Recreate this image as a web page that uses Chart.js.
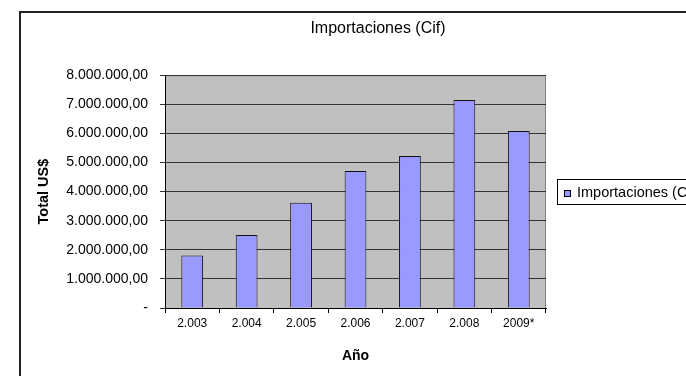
<!DOCTYPE html>
<html>
<head>
<meta charset="utf-8">
<title>Importaciones (Cif)</title>
<script src="https://cdn.jsdelivr.net/npm/chart.js@4.4.1/dist/chart.umd.min.js"></script>
<style>
  html, body { margin: 0; padding: 0; background: #ffffff; }
  #chart { display: block; }
</style>
</head>
<body>
<canvas id="chart" width="686" height="376"></canvas>
<script>
const years = ["2.003", "2.004", "2.005", "2.006", "2.007", "2.008", "2009*"];
const importaciones = [1805000, 2505000, 3620000, 4710000, 5220000, 7150000, 6080000];
const yTickLabels = [
  "-",
  "1.000.000,00",
  "2.000.000,00",
  "3.000.000,00",
  "4.000.000,00",
  "5.000.000,00",
  "6.000.000,00",
  "7.000.000,00",
  "8.000.000,00",
];
const seriesLabel = "Importaciones (Cif)";
const fontFamily = "'Liberation Sans', Arial, sans-serif";

// grey plot background + outer frame
const backgroundPlugin = {
  id: "plotBackground",
  beforeDraw(chart) {
    const ctx = chart.ctx;
    const area = chart.chartArea;
    ctx.save();
    ctx.fillStyle = "#c0c0c0";
    ctx.fillRect(area.left, area.top, area.right - area.left, area.bottom - area.top);
    ctx.strokeStyle = "#808080";
    ctx.lineWidth = 1;
    ctx.beginPath();
    ctx.moveTo(area.left, area.top + 0.5);
    ctx.lineTo(area.right - 0.5, area.top + 0.5);
    ctx.lineTo(area.right - 0.5, area.bottom);
    ctx.stroke();
    ctx.strokeStyle = "#222222";
    ctx.lineWidth = 2;
    ctx.strokeRect(20, 12, 2000, 2000);
    ctx.restore();
  },
};

// boxed legend, cut by the right edge like the original
const boxLegendPlugin = {
  id: "boxLegend",
  afterDraw(chart) {
    const ctx = chart.ctx;
    const ds = chart.data.datasets[0];
    ctx.save();
    ctx.strokeStyle = "#000000";
    ctx.lineWidth = 1;
    ctx.strokeRect(557.5, 179.5, 300, 25);
    ctx.fillStyle = ds.backgroundColor;
    ctx.fillRect(564, 190, 6, 6);
    ctx.strokeRect(564.5, 190.5, 6, 6);
    ctx.fillStyle = "#000000";
    ctx.font = "14.5px " + fontFamily;
    ctx.textBaseline = "middle";
    ctx.textAlign = "left";
    ctx.fillText(ds.label, 577, 193);
    ctx.restore();
  },
};

const ctx = document.getElementById("chart").getContext("2d");
new Chart(ctx, {
  type: "bar",
  data: {
    labels: years,
    datasets: [
      {
        label: seriesLabel,
        data: importaciones,
        backgroundColor: "#9999ff",
        borderColor: "#111111",
        borderWidth: 1,
        categoryPercentage: 0.8,
        barPercentage: 0.5,
      },
    ],
  },
  options: {
    responsive: false,
    animation: false,
    layout: {
      padding: { left: 0, right: -70, top: 0, bottom: 0 },
    },
    scales: {
      x: {
        offset: true,
        grid: {
          offset: true,
          drawOnChartArea: false,
          drawTicks: true,
          tickLength: 5,
          color: "#000000",
        },
        border: { display: true, color: "#000000", width: 1 },
        ticks: {
          color: "#000000",
          padding: 3,
          font: { family: fontFamily, size: 12 },
        },
        title: {
          display: true,
          text: "Año",
          color: "#000000",
          font: { family: fontFamily, size: 14, weight: "bold" },
          padding: { top: 0, bottom: 11 },
        },
        afterFit(scale) {
          scale.height = 68;
        },
      },
      y: {
        min: 0,
        max: 8000000,
        ticks: {
          stepSize: 1000000,
          color: "#000000",
          padding: 12,
          font: { family: fontFamily, size: 14 },
          callback: (value, index) => yTickLabels[index],
        },
        grid: {
          color: "#333333",
          lineWidth: 1,
          drawTicks: true,
          tickLength: 5,
        },
        border: { display: true, color: "#000000", width: 1 },
        title: {
          display: true,
          text: "Total US$",
          color: "#000000",
          font: { family: fontFamily, size: 14.5, weight: "bold" },
          padding: { top: 35, bottom: 0 },
        },
        afterFit(scale) {
          scale.width = 165;
        },
      },
      // empty right-hand axis that keeps room for the legend
      legendSpace: {
        position: "right",
        display: true,
        grid: { display: false, drawTicks: false },
        border: { display: false },
        ticks: { display: false },
        afterFit(scale) {
          scale.width = 210;
        },
      },
    },
    plugins: {
      legend: { display: false },
      tooltip: { enabled: false },
      title: {
        display: true,
        text: "Importaciones (Cif)",
        color: "#000000",
        font: { family: fontFamily, size: 16, weight: "normal" },
        padding: { top: 19, bottom: 37 },
      },
    },
  },
  plugins: [backgroundPlugin, boxLegendPlugin],
});
</script>
</body>
</html>
